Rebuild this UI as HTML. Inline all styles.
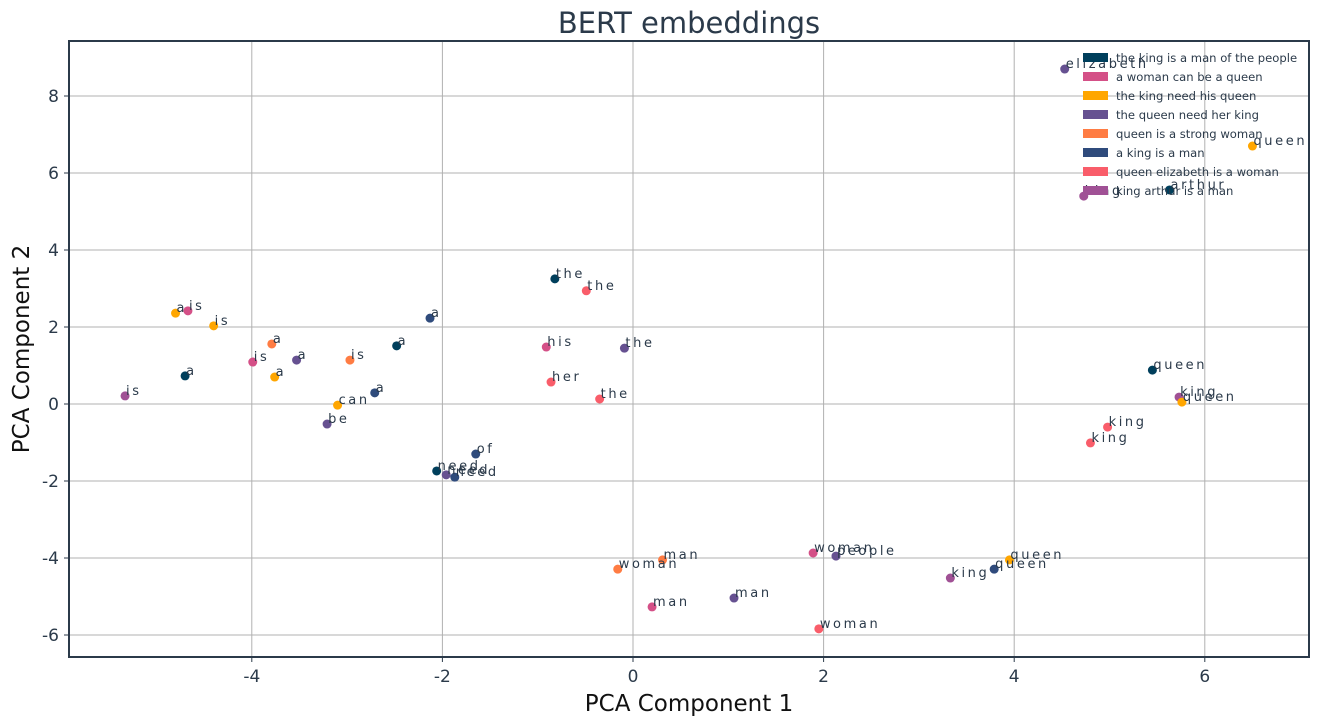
<!DOCTYPE html>
<html><head><meta charset="utf-8"><style>
body{margin:0;background:#fff}
svg{display:block;font-family:"DejaVu Sans","Liberation Sans",sans-serif}
</style></head><body>
<svg id="chart" width="1323" height="725"></svg>
<script>
const seriesNames=["the king is a man of the people","a woman can be a queen","the king need his queen","the queen need her king","queen is a strong woman","a king is a man","queen elizabeth is a woman","king arthur is a man"];
const colors=["#003f5c","#d45087","#ffa600","#665191","#ff7c43","#2f4b7c","#f95d6a","#a05195"];
const xs=[4.53,6.50,4.73,5.63,-0.82,-0.49,-4.80,-4.67,-4.40,-2.13,-3.79,-2.48,-0.91,-0.09,-3.99,-3.53,-2.97,-4.70,-3.76,-0.86,5.45,-5.33,-2.71,-0.35,-3.10,5.73,5.76,-3.21,4.98,4.80,-1.65,-2.06,-1.96,-1.87,0.31,-0.16,1.89,2.13,3.95,3.79,3.33,0.20,1.06,1.95];
const ys=[8.70,6.70,5.40,5.56,3.25,2.94,2.36,2.42,2.03,2.23,1.56,1.51,1.48,1.45,1.09,1.14,1.14,0.73,0.70,0.57,0.88,0.21,0.29,0.13,-0.03,0.18,0.05,-0.52,-0.60,-1.01,-1.30,-1.74,-1.84,-1.90,-4.05,-4.29,-3.87,-3.95,-4.05,-4.29,-4.52,-5.27,-5.04,-5.84];
const labels=["elizabeth","queen","king","arthur","the","the","a","is","is","a","a","a","his","the","is","a","is","a","a","her","queen","is","a","the","can","king","queen","be","king","king","of","need","need","need","man","woman","woman","people","queen","queen","king","man","man","woman"];
const series=[3,2,7,0,0,6,2,1,2,5,4,0,1,3,1,3,4,0,2,6,0,7,5,6,2,7,2,3,6,6,5,0,3,5,4,4,1,3,2,5,7,1,3,6];
const xTicks=[-4,-2,0,2,4,6];
const yTicks=[-6,-4,-2,0,2,4,6,8];
const NS="http://www.w3.org/2000/svg";
const svg=document.getElementById('chart');
const L=69,R=1309,T=41,B=657;
const X=v=>633+v*95.3, Y=v=>404-v*38.5;
function mk(tag,attrs,parent){const e=document.createElementNS(NS,tag);for(const k in attrs)e.setAttribute(k,attrs[k]);(parent||svg).appendChild(e);return e;}
const grid=mk('g',{});


xTicks.forEach(t=>{
  const gl=mk('line',{x1:X(t),x2:X(t),y1:T,y2:B,stroke:'#b0b0b0','stroke-width':1},grid);
  
  
  mk('line',{x1:X(t),x2:X(t),y1:B,y2:B+5,stroke:'#2b3a4a','stroke-width':1});
  const tx=mk('text',{x:X(t),y:B+25,'text-anchor':'middle','font-size':17,fill:'#2b3a4a'});
  tx.textContent=t;
  
  
});
yTicks.forEach(t=>{
  const gl=mk('line',{x1:L,x2:R,y1:Y(t),y2:Y(t),stroke:'#b0b0b0','stroke-width':1},grid);
  
  
  mk('line',{x1:L-5,x2:L,y1:Y(t),y2:Y(t),stroke:'#2b3a4a','stroke-width':1});
  const tx=mk('text',{x:L-10,y:Y(t)+6,'text-anchor':'end','font-size':17,fill:'#2b3a4a'});
  tx.textContent=t;
  
  
});
const pts=mk('g',{});


xs.forEach((v,i)=>{
  const c=mk('circle',{cx:X(v),cy:Y(ys[i]),r:4.5,fill:colors[series[i]]},pts);
  
  
});
xs.forEach((v,i)=>{
  const t=mk('text',{x:X(v)+1,y:Y(ys[i])-1,'font-size':13,fill:'#2b3a4a','letter-spacing':'2.6px'},pts);
  t.textContent=labels[i];
  
  
});
const frame=mk('rect',{x:L,y:T,width:R-L,height:B-T,fill:'none',stroke:'#2b3a4a','stroke-width':2});


const leg=mk('g',{});


seriesNames.forEach((n,i)=>{
  const y=53+i*19;
  const r=mk('rect',{x:1083,y:y,width:25,height:9,fill:colors[i]},leg);
  
  
  const t=mk('text',{x:1116,y:y+9,'font-size':11.6,fill:'#2b3a4a'},leg);
  t.textContent=n;
  
  
});
const title=mk('text',{x:689,y:33,'text-anchor':'middle','font-size':29,fill:'#2b3a4a'});
title.textContent='BERT embeddings';


const xt=mk('text',{x:689,y:711,'text-anchor':'middle','font-size':23,fill:'#111'});
xt.textContent='PCA Component 1';


const yt=mk('text',{x:0,y:0,'text-anchor':'middle','font-size':23,fill:'#111',transform:'translate(29,349) rotate(-90)'});
yt.textContent='PCA Component 2';


</script>
</body></html>
